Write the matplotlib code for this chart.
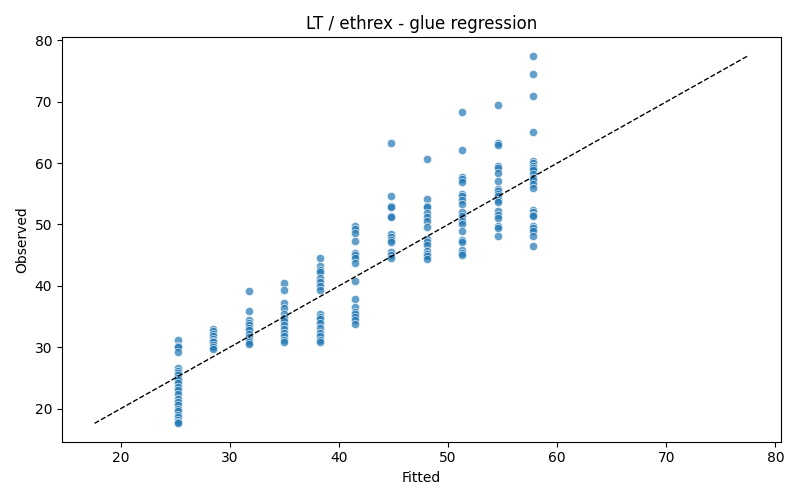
import numpy as np
import matplotlib.pyplot as plt

# fitted level for each group and the observed values at that level
fitted_levels = [25.2, 28.46, 31.72, 34.98, 38.24, 41.5, 44.76, 48.02, 51.28, 54.54, 57.8]
observed_groups = [
    [31.2, 30.2, 30.0, 29.2, 26.6, 26.2, 25.8, 25.4, 25.0, 24.6, 24.2, 23.6,
     23.0, 22.4, 21.6, 21.0, 20.6, 20.0, 19.6, 19.0, 18.6, 18.2, 17.8, 17.6],
    [33.0, 32.6, 32.2, 31.8, 31.4, 31.0, 30.8, 30.4, 30.0, 29.7],
    [39.2, 35.9, 34.5, 34.0, 33.6, 33.2, 32.8, 32.2, 31.6, 31.2, 30.8, 30.5],
    [40.4, 39.4, 37.2, 36.4, 35.4, 34.8, 34.2, 33.6, 33.0, 32.4, 31.8, 31.2, 30.8],
    [44.6, 43.2, 42.6, 42.2, 41.2, 40.6, 40.0, 39.3, 35.4, 35.0, 34.6, 34.0,
     33.2, 32.4, 31.8, 31.2, 30.8],
    [49.8, 49.2, 48.6, 47.3, 45.4, 45.0, 44.6, 43.8, 40.8, 37.9, 36.6, 35.8,
     35.4, 35.0, 34.4, 33.8],
    [63.3, 54.7, 53.0, 52.8, 51.4, 51.3, 48.5, 48.0, 47.5, 47.2, 45.5, 45.0, 44.5],
    [60.6, 54.2, 53.0, 52.8, 51.9, 51.2, 50.6, 49.6, 47.6, 47.2, 46.6, 45.6,
     45.2, 44.8, 44.4],
    [68.4, 62.2, 57.8, 57.4, 56.9, 55.0, 54.6, 54.0, 53.4, 52.0, 51.4, 50.6,
     50.0, 49.0, 47.4, 47.2, 45.8, 45.4, 45.0],
    [69.5, 63.3, 62.9, 59.6, 59.2, 58.4, 57.1, 55.8, 55.4, 55.0, 54.6, 54.0,
     53.6, 52.2, 51.6, 51.0, 49.8, 49.4, 48.2],
    [77.5, 74.5, 71.0, 65.0, 60.4, 60.0, 59.6, 59.2, 58.8, 58.2, 57.6, 57.2,
     56.6, 56.0, 52.4, 52.0, 51.6, 51.4, 49.8, 49.4, 49.0, 48.2, 46.5],
]

fitted = np.concatenate([[f] * len(g) for f, g in zip(fitted_levels, observed_groups)])
observed = np.concatenate(observed_groups)

fig, ax = plt.subplots(figsize=(8, 5), dpi=100)
ax.scatter(fitted, observed, s=36, color='#1f77b4', alpha=0.7,
           edgecolors='white', linewidths=0.6)

lo = min(fitted.min(), observed.min())
hi = max(fitted.max(), observed.max())
ax.plot([lo, hi], [lo, hi], 'k--', lw=1)

ax.set_xlabel('Fitted')
ax.set_ylabel('Observed')
ax.set_title('LT / ethrex - glue regression')
fig.tight_layout()
fig.savefig('out.png')
